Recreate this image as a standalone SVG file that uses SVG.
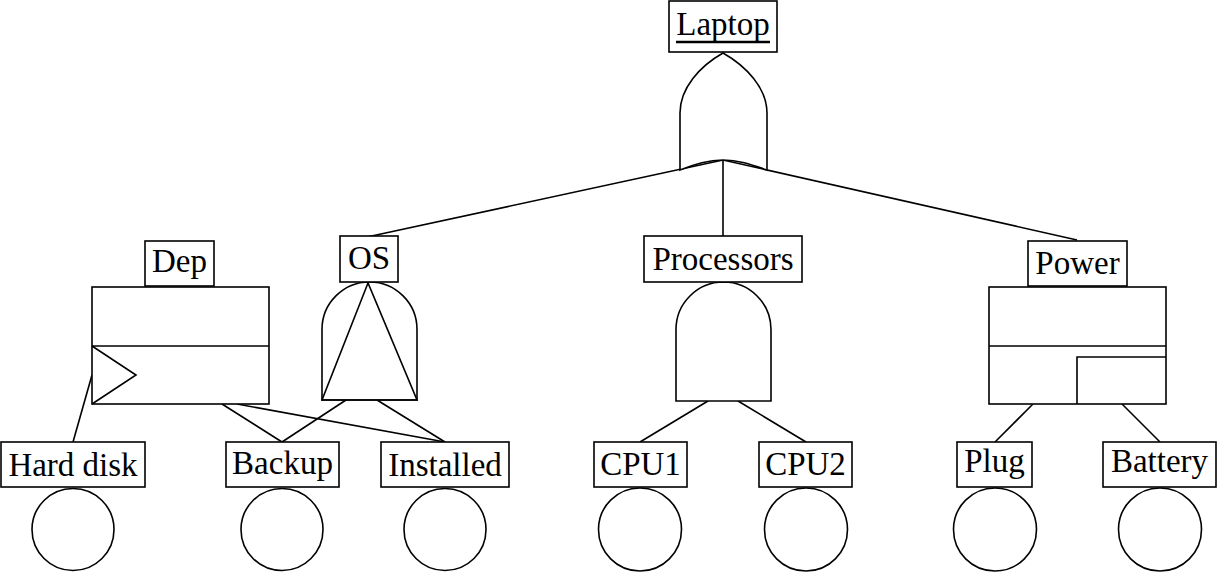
<svg xmlns="http://www.w3.org/2000/svg" width="1217" height="572" viewBox="0 0 1217 572">
<style>
.s{fill:#fff;stroke:#000;stroke-width:1.6}
.n{fill:none;stroke:#000;stroke-width:1.6}
.t{font-family:"Liberation Serif","Times New Roman",serif;font-size:33px;fill:#000;text-anchor:middle}
</style>
<rect width="1217" height="572" fill="#fff"/>
<g id="connectors" class="n">
<line x1="723" y1="160" x2="367" y2="237"/>
<line x1="723" y1="160" x2="723" y2="236"/>
<line x1="723" y1="160" x2="1077" y2="240"/>
<line x1="92" y1="375" x2="73" y2="442"/>
<line x1="222" y1="404" x2="282" y2="442"/>
<line x1="237" y1="404" x2="445" y2="442"/>
<line x1="346" y1="400" x2="282" y2="442"/>
<line x1="377" y1="400" x2="445" y2="442"/>
<line x1="708" y1="401" x2="640" y2="442"/>
<line x1="738" y1="401" x2="806" y2="442"/>
<line x1="1033" y1="404" x2="995" y2="442"/>
<line x1="1122" y1="404" x2="1160" y2="442"/>
</g>
<g id="laptop">
<path class="s" d="M680,170 L680,113 C680,88 700,66 723,53 C746,66 767,88 767,113 L767,170 C750,164 738,160 723,160 C708,160 696,164 680,170 Z"/>
<rect class="s" x="669" y="1" width="108" height="51"/>
<text class="t" x="723" y="35">Laptop</text>
<line x1="676" y1="42" x2="770" y2="42" stroke="#000" stroke-width="2.5"/>
</g>
<g id="dep">
<rect class="s" x="92" y="287" width="177" height="117"/>
<line class="n" x1="92" y1="346" x2="269" y2="346"/>
<path class="n" d="M92,346 L136,375 L92,404"/>
<rect class="s" x="145" y="241" width="69" height="45"/>
<text class="t" x="179.5" y="272">Dep</text>
</g>
<g id="os">
<path class="s" d="M322,400 L322,329.5 A47.5,47.5 0 0 1 417,329.5 L417,400 Z"/>
<path class="n" d="M368,283 L322,400 L417,400 Z" stroke-width="2"/>
<rect class="s" x="340" y="236" width="58" height="46"/>
<text class="t" x="369" y="269">OS</text>
</g>
<g id="processors">
<path class="s" d="M676,401 L676,329.5 A47.5,47.5 0 0 1 771,329.5 L771,401 Z"/>
<rect class="s" x="644" y="236" width="158" height="46"/>
<text class="t" x="723" y="270">Processors</text>
</g>
<g id="power">
<rect class="s" x="989" y="287" width="177" height="117"/>
<line class="n" x1="989" y1="346" x2="1166" y2="346"/>
<path class="n" d="M1077,404 L1077,357 L1166,357"/>
<rect class="s" x="1028" y="241" width="99" height="45"/>
<text class="t" x="1077.5" y="274">Power</text>
</g>
<g id="harddisk">
<rect class="s" x="1" y="442" width="144" height="45"/>
<text class="t" x="73" y="476">Hard disk</text>
<circle class="s" cx="73" cy="529.5" r="41"/>
</g>
<g id="backup">
<rect class="s" x="226" y="442" width="113" height="45"/>
<text class="t" x="282.5" y="474">Backup</text>
<circle class="s" cx="282" cy="529.5" r="41"/>
</g>
<g id="installed">
<rect class="s" x="381" y="442" width="128" height="45"/>
<text class="t" x="445" y="476">Installed</text>
<circle class="s" cx="445" cy="529.5" r="41"/>
</g>
<g id="cpu1">
<rect class="s" x="594" y="442" width="93" height="45"/>
<text class="t" x="640.5" y="475">CPU1</text>
<circle class="s" cx="640" cy="529.5" r="41.5"/>
</g>
<g id="cpu2">
<rect class="s" x="759" y="442" width="93" height="45"/>
<text class="t" x="805.5" y="475">CPU2</text>
<circle class="s" cx="806" cy="529.5" r="41.5"/>
</g>
<g id="plug">
<rect class="s" x="957" y="442" width="75" height="45"/>
<text class="t" x="994.5" y="472">Plug</text>
<circle class="s" cx="995" cy="529.5" r="41.5"/>
</g>
<g id="battery">
<rect class="s" x="1103" y="442" width="113" height="45"/>
<text class="t" x="1159.5" y="472">Battery</text>
<circle class="s" cx="1160" cy="529.5" r="41.5"/>
</g>
</svg>
